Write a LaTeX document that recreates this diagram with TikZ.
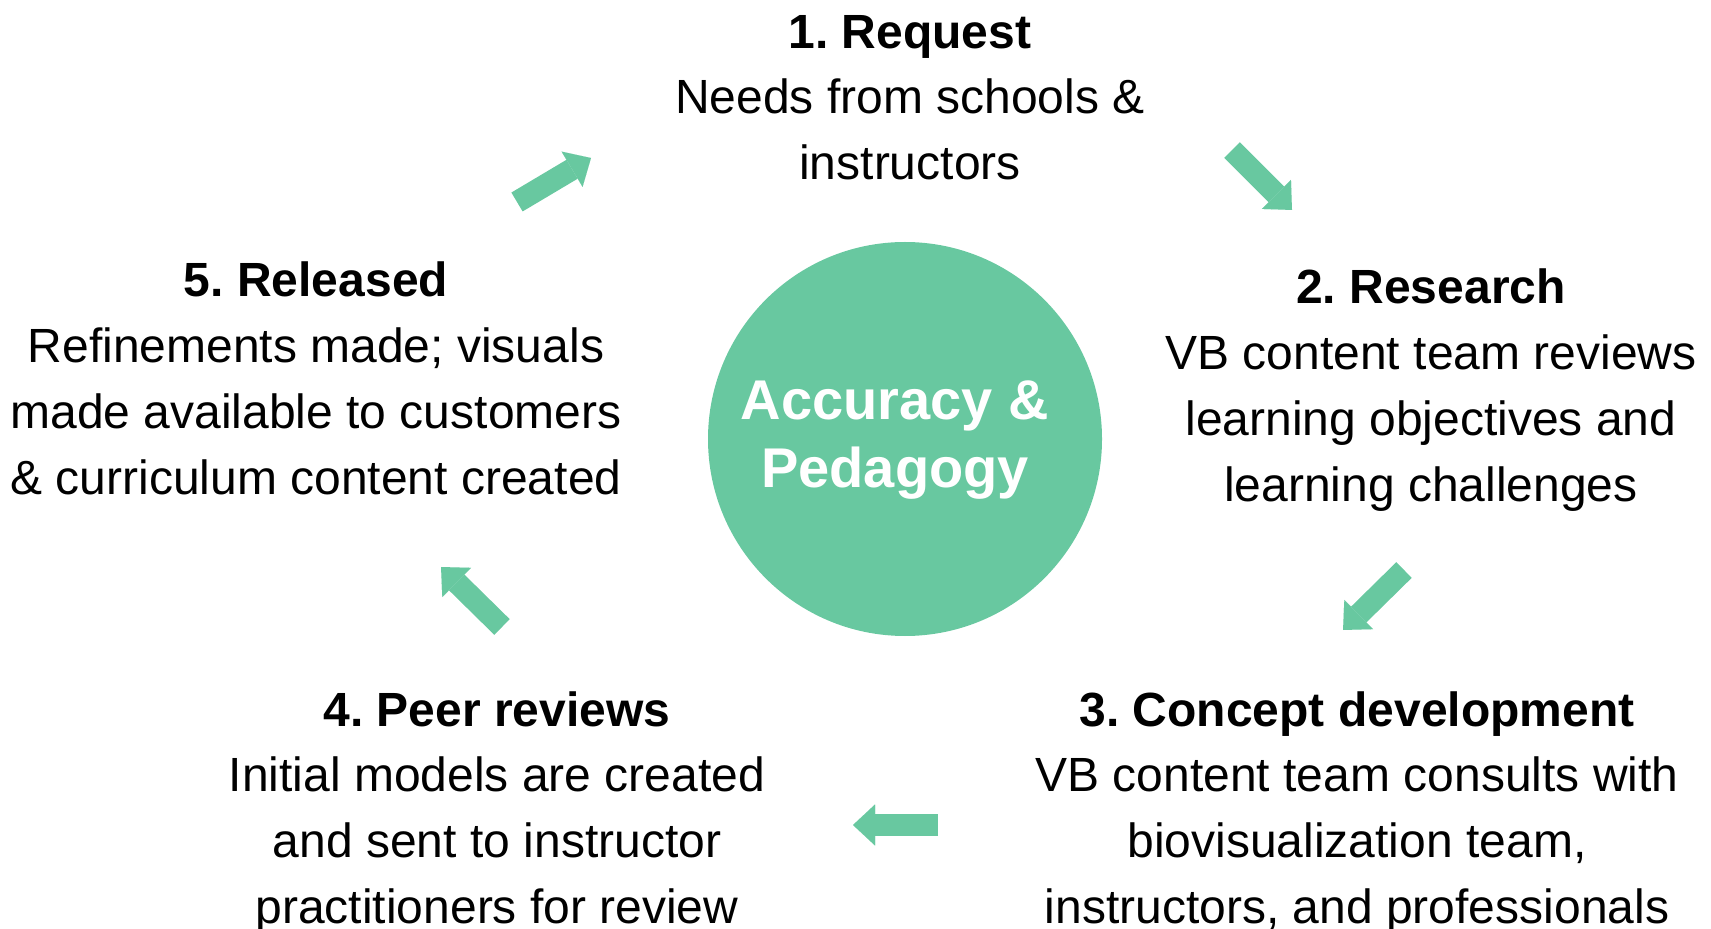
\documentclass[tikz,border=0pt]{standalone}
\usepackage{fontspec}
\setmainfont{Liberation Sans}
\usetikzlibrary{arrows.meta,positioning}
\definecolor{mint}{RGB}{104,200,160}
\frenchspacing

\begin{document}
\begin{tikzpicture}
[x=0.5pt, y=-0.5pt,
% STYLES
every node/.style={inner sep=0pt, align=center},
% The stage style is used for the description of each step (placed at its last line)
stage/.style={anchor=base, font=\fontsize{24pt}{33pt}\selectfont},
% The title style is used for the name of each step
title/.style={anchor=base, font=\fontsize{24pt}{33pt}\selectfont\bfseries},
% The hub is the circle in the middle
hub/.style={circle, fill=mint, minimum size=197pt},
% The flow style is used for the fat arrows between the steps
flow/.style={color=mint, line width=11pt, -{Triangle[width=20.5pt, length=11pt, line width=0.01pt]}}]
\useasboundingbox (0,0) rectangle (1711,929);
% Draw the hub
\node [hub] (hub) at (905,439) {};
\node [anchor=base, white, font=\fontsize{28pt}{34pt}\selectfont\bfseries] (hub-text) at (895,488) {Accuracy \&\\Pedagogy};
%%%%%%%%%%%%%%%
% Steps
% request
\node [title] (request) at (910,49) {1. Request};
\node [stage] (comment-request) at (910,180) {Needs from schools \&\\instructors};
% research
\node [title] (research) at (1431,304) {2. Research};
\node [stage] (comment-research) at (1431,502) {VB content team reviews\\learning objectives and\\learning challenges};
% concept
\node [title] (concept) at (1357,726) {3. Concept development};
\node [stage] (comment-concept) at (1357,923) {VB content team consults with\\biovisualization team,\\instructors, and professionals};
% peer reviews
\node [title] (peer) at (497,726) {4. Peer reviews};
\node [stage] (comment-peer) at (497,923) {Initial models are created\\and sent to instructor\\practitioners for review};
% released
\node [title] (released) at (316,297) {5. Released};
\node [stage] (comment-released) at (316,495) {Refinements made; visuals\\made available to customers\\\& curriculum content created};
%%%%%%%%%%%%%%%%
% Draw the arrows between steps
\coordinate (a5-s) at (517,202);
\coordinate (a5-e) at (591,158);
\coordinate (a1-s) at (1232,150);
\coordinate (a1-e) at (1292,210);
\coordinate (a2-s) at (1404,570);
\coordinate (a2-e) at (1343,630);
\coordinate (a3-s) at (938,825);
\coordinate (a3-e) at (853,825);
\coordinate (a4-s) at (502,627);
\coordinate (a4-e) at (441,567);
\path[flow]
(a5-s) edge (a5-e)
(a1-s) edge (a1-e)
(a2-s) edge (a2-e)
(a3-s) edge (a3-e)
(a4-s) edge (a4-e);
\end{tikzpicture}
\end{document}
